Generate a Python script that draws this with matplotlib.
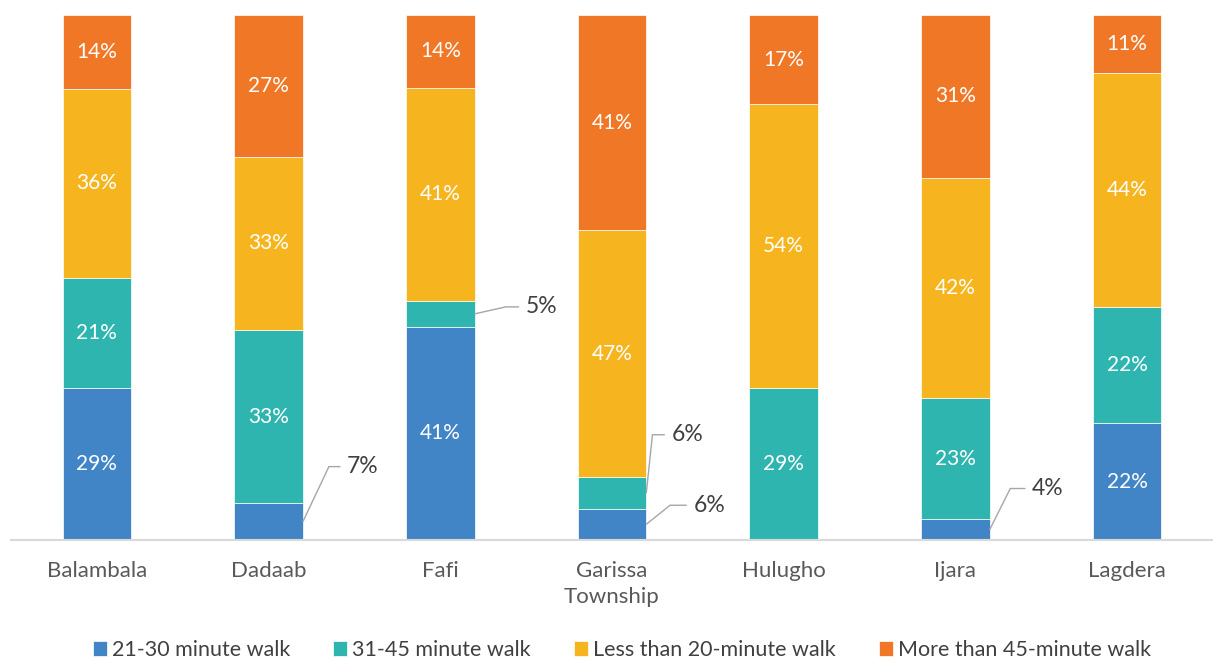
import numpy as np
import matplotlib
matplotlib.use('Agg')
import matplotlib.pyplot as plt

plt.rcParams['font.family'] = ['Lato', 'DejaVu Sans']

# walking distance to water source, per sub-county (% of households)
districts = ['Balambala', 'Dadaab', 'Fafi', 'Garissa\nTownship', 'Hulugho', 'Ijara', 'Lagdera']
series = ['21-30 minute walk', '31-45 minute walk', 'Less than 20-minute walk', 'More than 45-minute walk']
walk_21_30 = [29, 7, 41, 6, 0, 4, 22]
walk_31_45 = [21, 33, 5, 6, 29, 23, 22]
walk_lt_20 = [36, 33, 41, 47, 54, 42, 44]
walk_gt_45 = [14, 27, 14, 41, 17, 31, 11]

colors = ['#4285C6', '#2FB5B0', '#F6B51F', '#F07726']

# labels too small to fit inside the bar: (series index, district index, text offset px, leader angle)
outside = [
    (0, 1, (44, 55), 64.7),
    (1, 2, (51, 7), 12.7),
    (1, 3, (25, 58), 84.0),
    (0, 3, (47, 19), 38.7),
    (0, 5, (42, 41), 63.4),
]

data = np.array([walk_21_30, walk_31_45, walk_lt_20, walk_gt_45], dtype=float)
shares = data / data.sum(axis=0) * 100  # 100% stacked

fig = plt.figure(figsize=(12.13, 6.59), dpi=100)
ax = fig.add_axes([11 / 1213, 1 - 540 / 659, 1 - 11 / 1213, 525 / 659])

x = np.arange(len(districts))
width = 0.4
bottom = np.zeros(len(districts))
skip = {(s, d) for s, d, _, _ in outside}
for i, name in enumerate(series):
    ax.bar(x, shares[i], width, bottom=bottom, color=colors[i], label=name,
           edgecolor='white', linewidth=0.5)
    for j in range(len(districts)):
        if data[i, j] == 0 or (i, j) in skip:
            continue
        ax.text(x[j], bottom[j] + shares[i, j] / 2, f'{int(data[i, j])}%',
                ha='center', va='center', color='white', fontsize=15)
    bottom += shares[i]

# leader lines for the small segments
starts = np.cumsum(shares, axis=0) - shares
for s, d, off, angle in outside:
    y = starts[s, d] + shares[s, d] / 2
    ax.annotate(f'{int(data[s, d])}%', xy=(x[d] + width / 2, y),
                xytext=off, textcoords='offset pixels',
                ha='left', va='center', color='#404040', fontsize=16.5,
                arrowprops=dict(arrowstyle='-', color='#A6A6A6', lw=1,
                                relpos=(0, 0.5), shrinkA=3, shrinkB=0,
                                connectionstyle=f'angle,angleA=0,angleB={angle},rad=0'))

ax.set_xlim(-0.5, len(districts) - 0.5)
ax.set_ylim(0, 100)
ax.set_xticks(x)
ax.set_xticklabels(districts, fontsize=16, color='#595959', linespacing=1.4)
ax.tick_params(axis='x', length=0, pad=15)
ax.set_yticks([])
for side in ['left', 'right', 'top']:
    ax.spines[side].set_visible(False)
ax.spines['bottom'].set_color('#D9D9D9')
ax.spines['bottom'].set_linewidth(1.5)

fig.legend(loc='center', bbox_to_anchor=(622 / 1213, 1 - 650 / 659), ncol=4, frameon=False,
           fontsize=15.5, handlelength=0.65, handleheight=0.65, handletextpad=0.23,
           columnspacing=2.0, labelcolor='#404040')

fig.savefig('out.png', dpi=100, facecolor='white')
